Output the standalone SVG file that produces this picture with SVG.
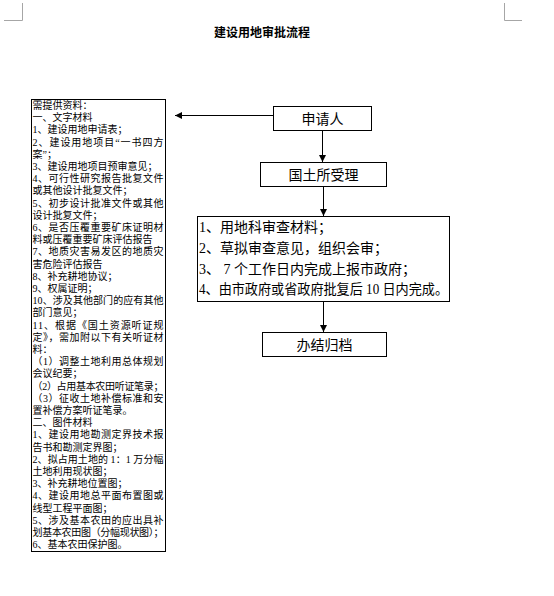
<svg xmlns="http://www.w3.org/2000/svg" width="554" height="596" viewBox="0 0 554 596">
<style>
.bg{fill:#ffffff}
.box{fill:#ffffff;stroke:#000000;stroke-width:1}
.mark{fill:none;stroke:#a6a6a6;stroke-width:1}
.conn{fill:none;stroke:#000000;stroke-width:1}
.t{font-family:"Liberation Serif","Noto Sans CJK SC",serif;fill:#000000}
.small{font-size:10px}
.mid{font-size:14px}
.title{font-size:12px;font-weight:bold}
</style>
<defs>
<marker id="arr" viewBox="0 0 10 10" refX="10" refY="5" markerWidth="7" markerHeight="7" orient="auto" markerUnits="userSpaceOnUse">
<path d="M0,0 L10,5 L0,10 Z" fill="#000000"/>
</marker>
</defs>
<rect class="bg" x="0" y="0" width="554" height="596"/>
<g id="corner-marks">
<path class="mark" d="M22.5,3 V20.5 H4"/>
<path class="mark" d="M504.5,3 V20.5 H522"/>
</g>
<g id="title">
<text class="t title" x="262" y="37" text-anchor="middle">建设用地审批流程</text>
</g>
<g id="connectors">
<line class="conn" x1="273" y1="115.5" x2="175" y2="115.5" marker-end="url(#arr)"/>
<line class="conn" x1="322.5" y1="131" x2="322.5" y2="162" marker-end="url(#arr)"/>
<line class="conn" x1="323.5" y1="186" x2="323.5" y2="216" marker-end="url(#arr)"/>
<line class="conn" x1="323.5" y1="302" x2="323.5" y2="332" marker-end="url(#arr)"/>
</g>
<g id="materials">
<rect class="box" x="31.5" y="99.5" width="134" height="452"/>
<g class="t small">
<text x="32.5" y="109">需提供资料：</text>
<text x="32.5" y="121.2">一、文字材料</text>
<text x="32.5" y="133.4">1、建设用地申请表；</text>
<text x="32.5" y="145.6" textLength="131" lengthAdjust="spacing">2、建设用地项目“一书四方</text>
<text x="32.5" y="157.8">案”；</text>
<text x="32.5" y="170">3、建设用地项目预审意见；</text>
<text x="32.5" y="182.2" textLength="131" lengthAdjust="spacing">4、可行性研究报告批复文件</text>
<text x="32.5" y="194.4">或其他设计批复文件；</text>
<text x="32.5" y="206.6" textLength="131" lengthAdjust="spacing">5、初步设计批准文件或其他</text>
<text x="32.5" y="218.8">设计批复文件；</text>
<text x="32.5" y="231" textLength="131" lengthAdjust="spacing">6、是否压覆重要矿床证明材</text>
<text x="32.5" y="243.2">料或压覆重要矿床评估报告</text>
<text x="32.5" y="255.4" textLength="131" lengthAdjust="spacing">7、地质灾害易发区的地质灾</text>
<text x="32.5" y="267.6">害危险评估报告</text>
<text x="32.5" y="279.8">8、补充耕地协议；</text>
<text x="32.5" y="292">9、权属证明；</text>
<text x="32.5" y="304.2" textLength="131" lengthAdjust="spacing">10、涉及其他部门的应有其他</text>
<text x="32.5" y="316.4">部门意见；</text>
<text x="32.5" y="328.6" textLength="131" lengthAdjust="spacing">11、根据《国土资源听证规</text>
<text x="32.5" y="340.8" textLength="131" lengthAdjust="spacing">定》，需加附以下有关听证材</text>
<text x="32.5" y="353">料：</text>
<text x="32.5" y="365.2" textLength="131" lengthAdjust="spacing">（1）调整土地利用总体规划</text>
<text x="32.5" y="377.4">会议纪要；</text>
<text x="32.5" y="389.6" textLength="131" lengthAdjust="spacing">（2）占用基本农田听证笔录；</text>
<text x="32.5" y="401.8" textLength="131" lengthAdjust="spacing">（3）征收土地补偿标准和安</text>
<text x="32.5" y="414">置补偿方案听证笔录。</text>
<text x="32.5" y="426.2">二、图件材料</text>
<text x="32.5" y="438.4" textLength="131" lengthAdjust="spacing">1、建设用地勘测定界技术报</text>
<text x="32.5" y="450.6">告书和勘测定界图；</text>
<text x="32.5" y="462.8" textLength="131" lengthAdjust="spacing">2、拟占用土地的 1：1 万分幅</text>
<text x="32.5" y="475">土地利用现状图；</text>
<text x="32.5" y="487.2">3、补充耕地位置图；</text>
<text x="32.5" y="499.4" textLength="131" lengthAdjust="spacing">4、建设用地总平面布置图或</text>
<text x="32.5" y="511.6">线型工程平面图；</text>
<text x="32.5" y="523.8" textLength="131" lengthAdjust="spacing">5、涉及基本农田的应出具补</text>
<text x="32.5" y="536" textLength="131" lengthAdjust="spacing">划基本农田图（分幅现状图）；</text>
<text x="32.5" y="548.2">6、基本农田保护图。</text>
</g>
</g>
<g id="applicant">
<rect class="box" x="273.5" y="106.5" width="98" height="24"/>
<text class="t mid" x="322.5" y="123.5" text-anchor="middle">申请人</text>
</g>
<g id="land-office">
<rect class="box" x="260.5" y="162.5" width="126" height="24"/>
<text class="t mid" x="323.5" y="179.5" text-anchor="middle">国土所受理</text>
</g>
<g id="review">
<rect class="box" x="197.5" y="216.5" width="252" height="85"/>
<g class="t mid">
<text x="199" y="232">1、用地科审查材料；</text>
<text x="199" y="253">2、草拟审查意见，组织会审；</text>
<text x="199" y="274">3、 7 个工作日内完成上报市政府；</text>
<text x="199" y="294" textLength="249" lengthAdjust="spacingAndGlyphs">4、由市政府或省政府批复后 10 日内完成。</text>
</g>
</g>
<g id="archive">
<rect class="box" x="262.5" y="332.5" width="124" height="24"/>
<text class="t mid" x="324.5" y="349.5" text-anchor="middle">办结归档</text>
</g>
</svg>
